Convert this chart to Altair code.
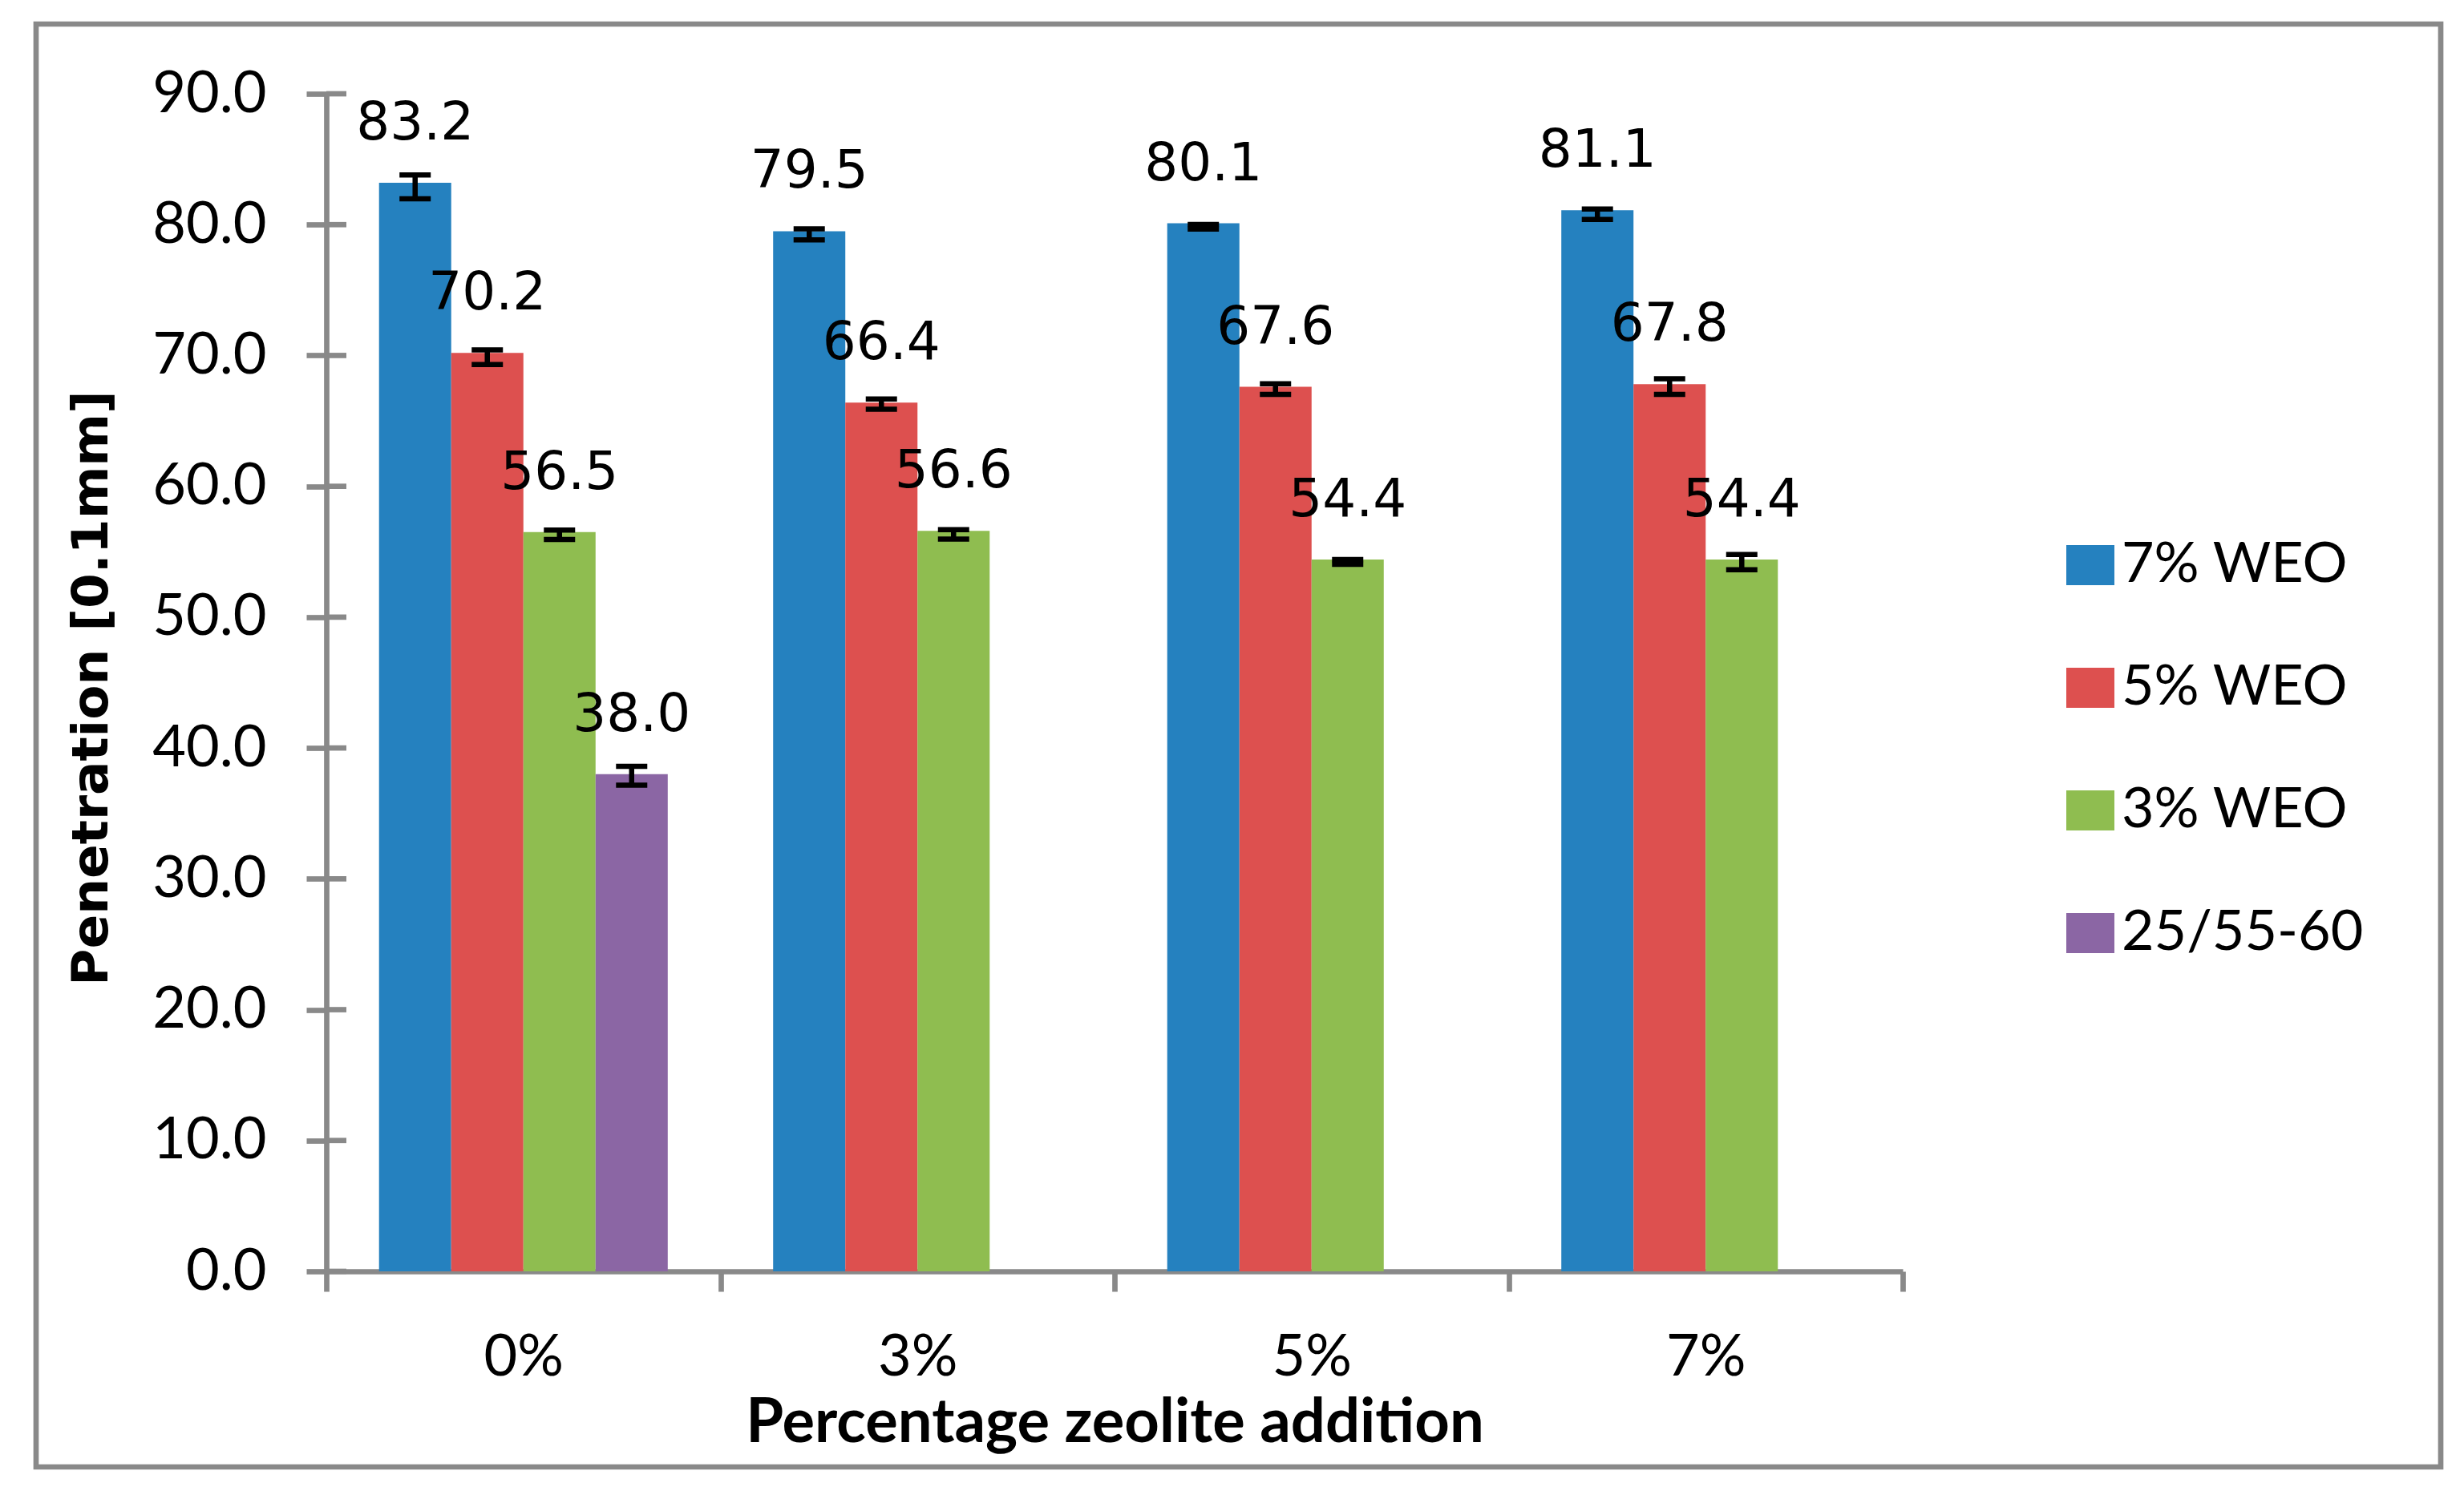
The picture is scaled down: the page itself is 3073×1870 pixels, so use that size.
import altair as alt
import pandas as pd

categories = ["0%", "3%", "5%", "7%"]
series = ["7% WEO", "5% WEO", "3% WEO", "25/55-60"]
colors = ["#2581BF", "#DD504F", "#8FBD50", "#8B66A4"]

weo7 = [83.2, 79.5, 80.1, 81.1]
weo5 = [70.2, 66.4, 67.6, 67.8]
weo3 = [56.5, 56.6, 54.4, 54.4]
ref = [38.0, None, None, None]

weo7_low = [81.97, 78.83, 79.66, 80.39]
weo7_high = [83.80, 79.68, 80.02, 81.20]
weo5_low = [69.31, 65.89, 67.02, 67.02]
weo5_high = [70.43, 66.67, 67.83, 68.22]
weo3_low = [55.94, 55.97, 54.03, 53.62]
weo3_high = [56.65, 56.68, 54.41, 54.78]
ref_low = [37.16, None, None, None]
ref_high = [38.60, None, None, None]

y_ticks = [0, 10, 20, 30, 40, 50, 60, 70, 80, 90]

vals = [weo7, weo5, weo3, ref]
lows = [weo7_low, weo5_low, weo3_low, ref_low]
highs = [weo7_high, weo5_high, weo3_high, ref_high]

rows = []
for s, v, lo, hi in zip(series, vals, lows, highs):
    for i, c in enumerate(categories):
        if v[i] is None:
            continue
        rows.append({"cat": c, "series": s, "value": v[i], "low": lo[i],
                     "high": hi[i], "label": f"{v[i]:.1f}"})
df = pd.DataFrame(rows)
ticks_df = pd.DataFrame({"t": y_ticks})

GRAY = "#898989"
LW = 6.7

x_axis = alt.Axis(
    tickBand="extent", tickSize=25, tickColor=GRAY, tickWidth=LW,
    domainColor=GRAY, domainWidth=LW, labelAngle=0,
    labelFont="Lato", labelFontSize=72, labelColor="black",
    labelBaseline="alphabetic", labelPadding=104,
    titleFont="Lato", titleFontSize=76, titleFontWeight="bold", titleColor="black",
    titleBaseline="alphabetic", titleY=212, grid=False,
)
y_axis = alt.Axis(
    values=y_ticks, format=".1f", tickSize=25, tickColor=GRAY, tickWidth=LW,
    domainColor=GRAY, domainWidth=LW,
    labelFont="Lato", labelFontSize=72, labelColor="black", labelPadding=50,
    titleFont="DejaVu Sans", titleFontSize=63, titleFontWeight="bold", titleColor="black",
    titleAngle=270, titleX=-293, titleY=741, titleBaseline="middle", titleAlign="center",
    grid=False,
)

x_scale = alt.Scale(domain=categories, paddingInner=0, paddingOuter=0)
y_scale = alt.Scale(domain=[0, 90], nice=False, zero=True)
xo_scale = alt.Scale(domain=series, paddingInner=0, paddingOuter=0.73)

X = alt.X("cat:N", sort=categories, scale=x_scale, axis=x_axis, title="Percentage zeolite addition")
XO = alt.XOffset("series:N", sort=series, scale=xo_scale)
YT = "Penetration [0.1mm]"

base = alt.Chart(df)

bars = base.mark_bar().encode(
    x=X, xOffset=XO,
    y=alt.Y("value:Q", scale=y_scale, axis=y_axis, title=YT),
    color=alt.Color(
        "series:N", sort=series,
        scale=alt.Scale(domain=series, range=colors),
        legend=alt.Legend(
            title=None, orient="none", legendX=2165, legendY=553,
            symbolType="M-1,-0.833H1V0.833H-1Z", symbolSize=3600,
            symbolStrokeWidth=0, symbolOpacity=1,
            labelFont="Lato", labelFontSize=70, labelColor="black",
            labelOffset=4, labelLimit=600, rowPadding=83,
        ),
    ),
)

stems = base.mark_rule(color="black", strokeWidth=6.5).encode(
    x=X, xOffset=XO,
    y=alt.Y("low:Q", scale=y_scale, axis=y_axis, title=YT),
    y2="high:Q",
)
caps_lo = base.mark_tick(color="black", size=39, thickness=6.5, orient="horizontal", opacity=1).encode(
    x=X, xOffset=XO,
    y=alt.Y("low:Q", scale=y_scale, axis=y_axis, title=YT),
)
caps_hi = base.mark_tick(color="black", size=39, thickness=6.5, orient="horizontal", opacity=1).encode(
    x=X, xOffset=XO,
    y=alt.Y("high:Q", scale=y_scale, axis=y_axis, title=YT),
)

labels = base.mark_text(
    font="DejaVu Sans", fontSize=66, color="black", baseline="alphabetic", dy=-54, align="center"
).encode(
    x=X, xOffset=XO,
    y=alt.Y("value:Q", scale=y_scale, axis=y_axis, title=YT),
    text="label:N",
)

inner_ticks = alt.Chart(ticks_df).mark_rule(color=GRAY, strokeWidth=LW).encode(
    y=alt.Y("t:Q", scale=y_scale, axis=y_axis, title=YT),
    x=alt.value(0), x2=alt.value(25),
)

frame = alt.Chart(alt.Data(values=[{"a": 1}])).mark_rect(
    fillOpacity=0, stroke=GRAY, strokeWidth=LW
).encode(
    x=alt.value(-362), x2=alt.value(2637), y=alt.value(-87), y2=alt.value(1713),
)

chart = alt.layer(frame, inner_ticks, bars, stems, caps_lo, caps_hi, labels).properties(
    width=1966, height=1469,
    autosize=alt.AutoSizeParams(type="none"),
    padding={"left": 399, "top": 109, "right": 685, "bottom": 257},
    background="white",
).configure_view(stroke=None)

chart.save("out.html", embed_options={"renderer": "svg", "actions": False})
